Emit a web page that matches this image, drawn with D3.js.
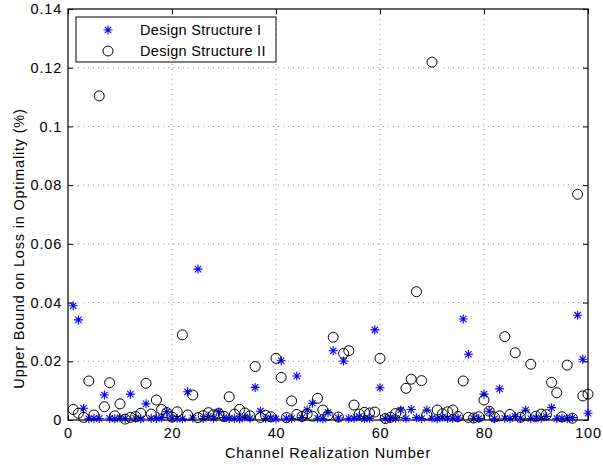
<!DOCTYPE html>
<html>
<head>
<meta charset="utf-8">
<script src="https://cdn.jsdelivr.net/npm/d3@7"></script>
<style>
  html, body { margin: 0; padding: 0; background: #fff; }
  svg { display: block; font-family: "Liberation Sans", Arial, sans-serif; }
  text { letter-spacing: 0.8px; }
  .legend text { letter-spacing: 0.3px; }
</style>
</head>
<body>
<svg id="chart" width="603" height="465"></svg>
<script>
// Channel realization index 1..100
const realizations = d3.range(1, 101);

// Design Structure I (asterisks)
const structureI = [
  0.0389, 0.0341, 0.0040, 0.0004, 0.0006, 0.0005, 0.0085, 0.0006, 0.0004, 0.0007,
  0.0005, 0.0088, 0.0006, 0.0004, 0.0055, 0.0006, 0.0005, 0.0008, 0.0028, 0.0006,
  0.0005, 0.0004, 0.0096, 0.0007, 0.0514, 0.0005, 0.0012, 0.0006, 0.0028, 0.0008,
  0.0005, 0.0006, 0.0004, 0.0010, 0.0006, 0.0111, 0.0030, 0.0005, 0.0007, 0.0004,
  0.0202, 0.0006, 0.0005, 0.0150, 0.0008, 0.0034, 0.0057, 0.0006, 0.0004, 0.0025,
  0.0236, 0.0007, 0.0201, 0.0005, 0.0006, 0.0012, 0.0004, 0.0006, 0.0307, 0.0110,
  0.0005, 0.0007, 0.0006, 0.0034, 0.0005, 0.0036, 0.0008, 0.0005, 0.0034, 0.0006,
  0.0004, 0.0010, 0.0006, 0.0005, 0.0007, 0.0344, 0.0224, 0.0006, 0.0005, 0.0088,
  0.0030, 0.0004, 0.0106, 0.0006, 0.0005, 0.0012, 0.0006, 0.0034, 0.0005, 0.0007,
  0.0006, 0.0012, 0.0042, 0.0005, 0.0006, 0.0004, 0.0008, 0.0357, 0.0207, 0.0023
];

// Design Structure II (circles)
const structureII = [
  0.0036, 0.0023, 0.0009, 0.0133, 0.0017, 0.1104, 0.0045, 0.0127, 0.0014, 0.0055,
  0.0003, 0.0009, 0.0012, 0.0023, 0.0125, 0.0020, 0.0068, 0.0036, 0.0025, 0.0010,
  0.0028, 0.0290, 0.0017, 0.0085, 0.0008, 0.0015, 0.0025, 0.0018, 0.0022, 0.0012,
  0.0079, 0.0020, 0.0036, 0.0024, 0.0014, 0.0182, 0.0009, 0.0016, 0.0011, 0.0210,
  0.0145, 0.0008, 0.0065, 0.0019, 0.0012, 0.0021, 0.0013, 0.0074, 0.0034, 0.0016,
  0.0282, 0.0010, 0.0227, 0.0236, 0.0051, 0.0020, 0.0026, 0.0024, 0.0027, 0.0210,
  0.0005, 0.0009, 0.0022, 0.0025, 0.0108, 0.0139, 0.0437, 0.0134, 0.0018, 0.1219,
  0.0034, 0.0021, 0.0028, 0.0034, 0.0012, 0.0133, 0.0009, 0.0007, 0.0011, 0.0068,
  0.0030, 0.0010, 0.0014, 0.0284, 0.0019, 0.0229, 0.0009, 0.0016, 0.0190, 0.0013,
  0.0020, 0.0018, 0.0128, 0.0093, 0.0011, 0.0187, 0.0006, 0.0769, 0.0082, 0.0088
];

const xTicks = [0, 20, 40, 60, 80, 100];
const yTicks = [0, 0.02, 0.04, 0.06, 0.08, 0.1, 0.12, 0.14];
const yTickLabels = ["0", "0.02", "0.04", "0.06", "0.08", "0.1", "0.12", "0.14"];
const seriesNames = ["Design Structure I", "Design Structure II"];

const svg = d3.select("#chart");
const m = { left: 68, right: 588, top: 9, bottom: 420 };

const x = d3.scaleLinear().domain([0, 100]).range([m.left, m.right]);
const y = d3.scaleLinear().domain([0, 0.14]).range([m.bottom, m.top]);

// dotted grid
const grid = svg.append("g").attr("stroke", "#777").attr("stroke-width", 0.8)
  .attr("stroke-dasharray", "1,4");
xTicks.slice(1, -1).forEach(t => {
  grid.append("line").attr("x1", x(t)).attr("x2", x(t)).attr("y1", m.top).attr("y2", m.bottom);
});
yTicks.slice(1, -1).forEach(t => {
  grid.append("line").attr("x1", m.left).attr("x2", m.right).attr("y1", y(t)).attr("y2", y(t));
});

// axes with inward ticks
const fmt = d => yTickLabels[yTicks.indexOf(d)];
const axBottom = d3.axisBottom(x).tickValues(xTicks).tickSizeInner(-5).tickSizeOuter(0).tickPadding(8);
const axTop = d3.axisTop(x).tickValues(xTicks).tickSizeInner(-5).tickSizeOuter(0).tickFormat("");
const axLeft = d3.axisLeft(y).tickValues(yTicks).tickFormat(fmt).tickSizeInner(-5).tickSizeOuter(0).tickPadding(6);
const axRight = d3.axisRight(y).tickValues(yTicks).tickSizeInner(-5).tickSizeOuter(0).tickFormat("");

function styleAxis(g) {
  g.select(".domain").remove();
  g.selectAll("line").attr("stroke", "#000");
  g.selectAll("text").attr("fill", "#000").style("font-size", "14.5px")
    .style("font-family", "'Liberation Sans', Arial, sans-serif");
}
svg.append("g").attr("transform", `translate(0,${m.bottom})`).call(axBottom).call(styleAxis);
svg.append("g").attr("transform", `translate(0,${m.top})`).call(axTop).call(styleAxis);
svg.append("g").attr("transform", `translate(${m.left},0)`).call(axLeft).call(styleAxis);
svg.append("g").attr("transform", `translate(${m.right},0)`).call(axRight).call(styleAxis);

// frame
svg.append("rect").attr("x", m.left).attr("y", m.top)
  .attr("width", m.right - m.left).attr("height", m.bottom - m.top)
  .attr("fill", "none").attr("stroke", "#000").attr("stroke-width", 1.2);

// asterisk marker path
const r = 4.5, d45 = r * Math.SQRT1_2;
const starPath = `M${-r},0L${r},0M0,${-r}L0,${r}M${-d45},${-d45}L${d45},${d45}M${-d45},${d45}L${d45},${-d45}`;

const plot = svg.append("g");
plot.selectAll("path.s1").data(realizations).join("path")
  .attr("class", "s1")
  .attr("transform", (d, i) => `translate(${x(d)},${y(structureI[i])})`)
  .attr("d", starPath).attr("stroke", "#0000ff").attr("stroke-width", 1.1).attr("fill", "none");

plot.selectAll("circle.s2").data(realizations).join("circle")
  .attr("class", "s2")
  .attr("cx", d => x(d)).attr("cy", (d, i) => y(structureII[i]))
  .attr("r", 5).attr("stroke", "#000").attr("stroke-width", 1).attr("fill", "none");

// axis labels
svg.append("text").attr("x", (m.left + m.right) / 2).attr("y", 458)
  .attr("text-anchor", "middle").style("font-size", "14.5px").text("Channel Realization Number");
svg.append("text").attr("transform", `translate(24,${(m.top + m.bottom) / 2 + 34}) rotate(-90)`)
  .attr("text-anchor", "middle").style("font-size", "14.5px").text("Upper Bound on Loss in Optimality (%)");

// legend
const lg = svg.append("g").attr("class", "legend");
lg.append("rect").attr("x", 76).attr("y", 17).attr("width", 200).attr("height", 45)
  .attr("fill", "#fff").attr("stroke", "#000").attr("stroke-width", 1);
lg.append("path").attr("transform", "translate(108,30)").attr("d", starPath)
  .attr("stroke", "#0000ff").attr("stroke-width", 1.1).attr("fill", "none");
lg.append("circle").attr("cx", 108).attr("cy", 51).attr("r", 5)
  .attr("stroke", "#000").attr("fill", "none");
lg.selectAll("text").data(seriesNames).join("text")
  .attr("x", 140).attr("y", (d, i) => 35 + i * 21)
  .style("font-size", "14.5px").text(d => d);
</script>
</body>
</html>
